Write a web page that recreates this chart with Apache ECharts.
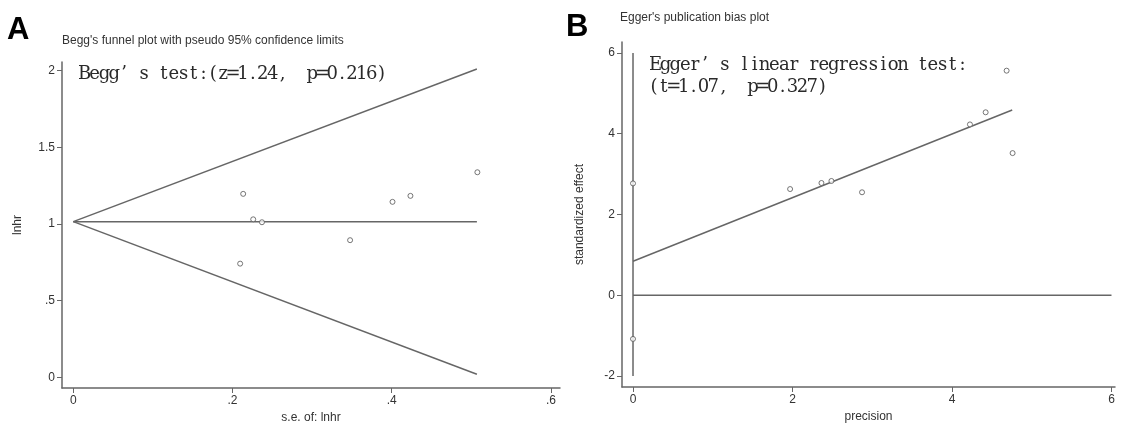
<!DOCTYPE html>
<html>
<head>
<meta charset="utf-8">
<script src="https://cdn.jsdelivr.net/npm/echarts@6/dist/echarts.min.js"></script>
<style>
html,body{margin:0;padding:0;background:#fff;}
#chart{width:1124px;height:423px;}
</style>
</head>
<body>
<div id="chart"></div>
<script>
// ---- Panel A: Begg's funnel plot ----
const seA = [0.2134, 0.226, 0.237, 0.2096, 0.3477, 0.401, 0.4235, 0.5076];
const lnhrA = [1.196, 1.03, 1.011, 0.741, 0.894, 1.144, 1.183, 1.337];
const funnelSE = [0, 0.507];
const funnelMid = [1.015, 1.015];
const funnelUpper = [1.015, 2.01];
const funnelLower = [1.015, 0.02];
const xTicksA = [0, 0.2, 0.4, 0.6];
const yTicksA = [0, 0.5, 1, 1.5, 2];

// ---- Panel B: Egger's publication bias plot ----
const precisionB = [4.685, 4.422, 4.225, 4.76, 1.97, 2.363, 2.488, 2.872, 0, 0];
const stdEffectB = [5.56, 4.53, 4.23, 3.52, 2.63, 2.78, 2.83, 2.55, 2.77, -1.08];
const regX = [0, 4.755];
const regY = [0.843, 4.585];
const zeroLineX = [0, 6];
const vLineY = [-2, 6];
const xTicksB = [0, 2, 4, 6];
const yTicksB = [-2, 0, 2, 4, 6];

// ---- Texts ----
const titleA = "Begg's funnel plot with pseudo 95% confidence limits";
const titleB = "Egger's publication bias plot";
const noteA = 'Begg’s test:(z=1.24， p=0.216)';
const noteB1 = 'Egger’s linear regression test:';
const noteB2 = '(t=1.07， p=0.327)';

const lineCol = '#666';
const axisCol = '#666';
const txtCol = '#333';
const sansFont = '"Liberation Sans", Arial, sans-serif';

function pairs(xs, ys){ return xs.map((x,i)=>[x, ys[i]]); }
function fmtDot(v){
  if (v === 0) return '0';
  let s = String(Math.round(v*100)/100);
  if (s.startsWith('0.')) s = s.slice(1);
  return s;
}
// lay out text in uniform half-width cells (like a CJK system font's Latin glyphs)
function monoRich(str){
  let out = '';
  for (const ch of str){
    if (ch === '’') out += '{h|’}{h| }';
    else if (ch === '，') out += '{h|,}{h| }';
    else out += '{h|' + ch + '}';
  }
  return out;
}
const monoStyle = {h:{width:9.9, align:'center', font:'18px "DejaVu Serif", "Liberation Serif", serif', fill:'#2a2a2a', lineHeight:22}};

function axisBase(ticks, min, max, fmt, extra){
  return Object.assign({
    type:'value', min:min, max:max,
    axisLine:{show:true, onZero:false, lineStyle:{color:axisCol, width:1.5}},
    axisTick:{show:true, inside:false, length:5, customValues:ticks, lineStyle:{color:axisCol, width:1}},
    axisLabel:{show:true, customValues:ticks, formatter:fmt, color:txtCol, fontSize:12, fontFamily:sansFont, margin:7},
    splitLine:{show:false},
    nameTextStyle:{color:txtCol, fontSize:12, fontFamily:sansFont}
  }, extra||{});
}

const chart = echarts.init(document.getElementById('chart'), null, {renderer:'canvas'});
const lineSeries = (name, xi, yi, data) => ({
  type:'line', name:name, xAxisIndex:xi, yAxisIndex:yi, data:data,
  symbol:'none', silent:true, lineStyle:{color:lineCol, width:1.5}, z:2
});
const pointStyle = {color:'#fff', borderColor:'#555', borderWidth:1};

chart.setOption({
  animation:false,
  backgroundColor:'#fff',
  grid:[
    {left:62, top:62, width:498, height:326, outerBoundsMode:'none'},
    {left:622, top:42, width:493, height:345, outerBoundsMode:'none'}
  ],
  xAxis:[
    axisBase(xTicksA, -0.0142, 0.6114, fmtDot, {gridIndex:0, name:'s.e. of: lnhr', nameLocation:'middle', nameGap:20}),
    axisBase(xTicksB, -0.138, 6.044, v=>String(v), {gridIndex:1, name:'precision', nameLocation:'middle', nameGap:20})
  ],
  yAxis:[
    axisBase(yTicksA, -0.07, 2.056, fmtDot, {gridIndex:0, name:'lnhr', nameLocation:'middle', nameGap:38}),
    axisBase(yTicksB, -2.27, 6.27, v=>String(v), {gridIndex:1, name:'standardized effect', nameLocation:'middle', nameGap:36})
  ],
  series:[
    lineSeries('mid', 0, 0, pairs(funnelSE, funnelMid)),
    lineSeries('upper', 0, 0, pairs(funnelSE, funnelUpper)),
    lineSeries('lower', 0, 0, pairs(funnelSE, funnelLower)),
    {type:'scatter', xAxisIndex:0, yAxisIndex:0, data:pairs(seA, lnhrA), symbol:'circle', symbolSize:5,
     itemStyle:pointStyle, z:3, silent:true},
    lineSeries('reg', 1, 1, pairs(regX, regY)),
    lineSeries('zero', 1, 1, pairs(zeroLineX, [0,0])),
    lineSeries('vline', 1, 1, pairs([0,0], vLineY)),
    {type:'scatter', xAxisIndex:1, yAxisIndex:1, data:pairs(precisionB, stdEffectB), symbol:'circle', symbolSize:5,
     itemStyle:pointStyle, z:3, silent:true}
  ],
  graphic:[
    {type:'text', left:7, top:15, style:{text:'A', font:'bold 31px "Liberation Sans", Arial, sans-serif', fill:'#000'}},
    {type:'text', left:566, top:12, style:{text:'B', font:'bold 31px "Liberation Sans", Arial, sans-serif', fill:'#000'}},
    {type:'text', left:62, top:35, style:{text:titleA, font:'12px ' + sansFont, fill:'#333'}},
    {type:'text', left:620, top:12, style:{text:titleB, font:'12px ' + sansFont, fill:'#333'}},
    {type:'text', left:78, top:65, style:{text:monoRich(noteA), rich:monoStyle}},
    {type:'text', left:649, top:56, style:{text:monoRich(noteB1), rich:monoStyle}},
    {type:'text', left:649, top:78, style:{text:monoRich(noteB2), rich:monoStyle}}
  ]
});
</script>
</body>
</html>
